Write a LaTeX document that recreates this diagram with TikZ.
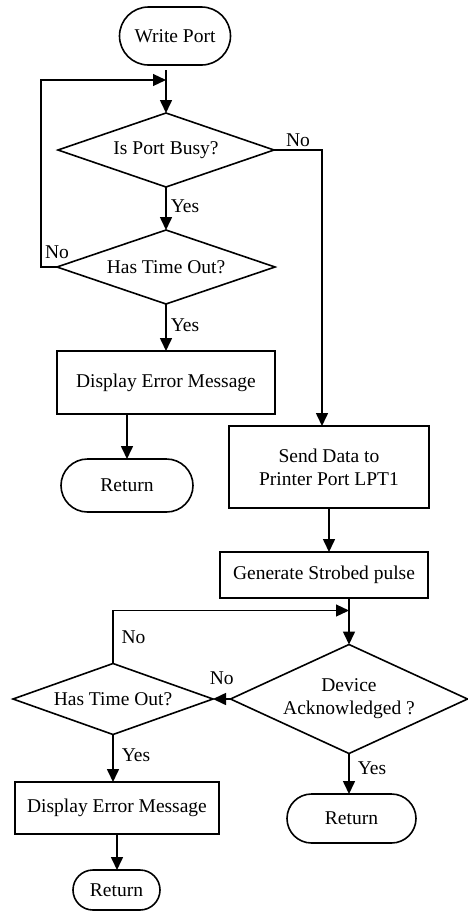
\documentclass[tikz,border=0pt]{standalone}
\usepackage{fontspec}
\setmainfont{Liberation Serif}
\usetikzlibrary{shapes, arrows.meta, calc, positioning}

\begin{document}
\begin{tikzpicture}[x=1pt, y=1pt, >={Triangle[length=13pt, width=12pt]},
    font=\fontsize{19.5}{23}\selectfont,
    term/.style={draw, rounded rectangle, line width=1.6pt, inner sep=0pt, outer sep=0pt},
    procbox/.style={draw, rectangle, line width=1.6pt, align=center, inner sep=0pt, outer sep=0pt},
    decide/.style={draw, diamond, line width=1.6pt, align=center, inner sep=0pt, outer sep=0pt},
    flow/.style={->, line width=1.6pt},
    loopline/.style={->, line width=1.2pt},
    lbl/.style={inner sep=2pt}]
    \useasboundingbox (0,0) rectangle (467,-911);

    % Start: Write Port
    \node [term, minimum width=111, minimum height=58] (start) at (175,-36) {Write Port};

    % Busy check with its time out (left column)
    \node [decide, aspect=2.9, minimum width=216, minimum height=74] (busy) at (166,-150) {Is Port Busy?};
    \node [decide, aspect=2.95, minimum width=218, minimum height=74] (tout1) at (166,-267) {Has Time Out?};
    \node [procbox, minimum width=218, minimum height=63] (err1) at (166,-382.5) {Display Error Message};
    \node [term, minimum width=132, minimum height=53] (ret1) at (127,-485.5) {Return};

    % Sending branch (right column)
    \node [procbox, minimum width=200, minimum height=82] (send) at (329,-467) {Send Data to\\Printer Port LPT1};
    \node [procbox, minimum width=208, minimum height=46] (strobe) at (324,-575) {Generate Strobed pulse};
    \node [decide, aspect=2.17, minimum width=237, minimum height=109] (ack) at (349,-699) {Device\\Acknowledged ?};
    \node [term, minimum width=129, minimum height=49] (ret3) at (351.5,-818.5) {Return};

    % Acknowledge time out (bottom left)
    \node [decide, aspect=2.8, minimum width=200, minimum height=71] (tout2) at (113,-699) {Has Time Out?};
    \node [procbox, minimum width=204, minimum height=52] (err2) at (117,-808) {Display Error Message};
    \node [term, minimum width=87, minimum height=40] (ret2) at (116.5,-890) {Return};

    % Turning points of the loops and the No branch
    \coordinate (loop1) at ($(busy.north) + (0,33)$);
    \coordinate (loop1_turn) at (41,0);
    \coordinate (loop2) at ($(ack.north) + (0,34)$);
    \coordinate (send_in) at ($(send.north) + (-7,0)$);

    % Top part
    \draw [flow, shorten <=5pt] (start.south -| busy.north) -- (busy.north);
    \draw [loopline] (tout1.west) -- node[lbl, above, xshift=8pt, yshift=6pt] {No} (tout1.west -| loop1_turn) -- (loop1 -| loop1_turn) -- (loop1);
    \draw [flow] (busy.south) -- node[lbl, right, xshift=2pt, yshift=2pt] {Yes} (tout1.north);
    \draw [flow] (tout1.south) -- node[lbl, right, xshift=2pt, yshift=2pt] {Yes} (err1.north);
    \draw [flow] (err1.south -| ret1.north) -- (ret1.north);
    \draw [flow] (busy.east) -- node[lbl, above, yshift=1pt] {No} (busy.east -| send_in) -- (send_in);

    % Bottom part
    \draw [flow] (send.south) -- (send.south |- strobe.north);
    \draw [flow] (strobe.south -| ack.north) -- (ack.north);
    \draw [loopline] (tout2.north) -- node[lbl, right, xshift=6pt] {No} (tout2.north |- loop2) -- (loop2);
    \draw [flow] (ack.west) -- node[lbl, above, yshift=12pt] {No} (tout2.east);
    \draw [flow] (tout2.south) -- node[lbl, right, xshift=6pt, yshift=3pt] {Yes} (tout2.south |- err2.north);
    \draw [flow] (err2.south) -- (err2.south |- ret2.north);
    \draw [flow] (ack.south) -- node[lbl, right, xshift=6pt, yshift=6pt] {Yes} (ack.south |- ret3.north);

\end{tikzpicture}
\end{document}
